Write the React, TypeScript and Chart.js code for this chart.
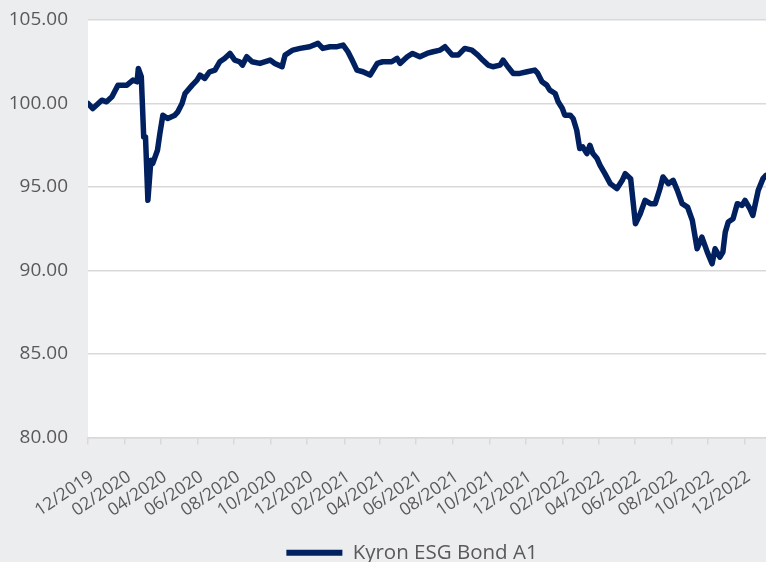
import React, { useEffect, useRef } from 'react';
import { Chart, registerables } from 'chart.js';

Chart.register(...registerables);

const SERIES_NAME = 'Kyron ESG Bond A1';
const LINE_COLOR = '#002060';

const dates: string[] = [
  '2019-12-01', '2019-12-09', '2019-12-24', '2020-01-01', '2020-01-10', '2020-01-20', '2020-02-04', '2020-02-14',
  '2020-02-21', '2020-02-23', '2020-02-28', '2020-03-03', '2020-03-06', '2020-03-10', '2020-03-15', '2020-03-18',
  '2020-03-26', '2020-03-30', '2020-04-04', '2020-04-12', '2020-04-24', '2020-04-29', '2020-05-06', '2020-05-11',
  '2020-05-23', '2020-05-31', '2020-06-05', '2020-06-13', '2020-06-21', '2020-06-30', '2020-07-08', '2020-07-16',
  '2020-07-25', '2020-08-02', '2020-08-10', '2020-08-15', '2020-08-22', '2020-08-31', '2020-09-13', '2020-09-30',
  '2020-10-08', '2020-10-20', '2020-10-25', '2020-11-07', '2020-11-19', '2020-12-05', '2020-12-19', '2020-12-27',
  '2021-01-08', '2021-01-20', '2021-01-30', '2021-02-07', '2021-02-14', '2021-02-22', '2021-03-04', '2021-03-16',
  '2021-03-28', '2021-04-06', '2021-04-21', '2021-04-30', '2021-05-05', '2021-05-17', '2021-05-26', '2021-06-07',
  '2021-06-19', '2021-06-29', '2021-07-11', '2021-07-19', '2021-07-31', '2021-08-10', '2021-08-21', '2021-09-02',
  '2021-09-12', '2021-09-20', '2021-09-29', '2021-10-07', '2021-10-19', '2021-10-24', '2021-11-01', '2021-11-10',
  '2021-11-21', '2021-12-03', '2021-12-16', '2021-12-21', '2021-12-28', '2022-01-05', '2022-01-10', '2022-01-19',
  '2022-01-24', '2022-01-31', '2022-02-04', '2022-02-13', '2022-02-18', '2022-02-24', '2022-03-01', '2022-03-06',
  '2022-03-13', '2022-03-18', '2022-03-23', '2022-03-30', '2022-04-04', '2022-04-12', '2022-04-21', '2022-05-02',
  '2022-05-11', '2022-05-16', '2022-05-25', '2022-06-02', '2022-06-10', '2022-06-18', '2022-06-27', '2022-07-05',
  '2022-07-13', '2022-07-18', '2022-07-27', '2022-08-04', '2022-08-11', '2022-08-19', '2022-08-28', '2022-09-05',
  '2022-09-13', '2022-09-21', '2022-09-30', '2022-10-08', '2022-10-13', '2022-10-21', '2022-10-26', '2022-10-30',
  '2022-11-04', '2022-11-12', '2022-11-19', '2022-11-27', '2022-12-02', '2022-12-10', '2022-12-15', '2022-12-24',
  '2023-01-01', '2023-01-06',
];

const values: number[] = [
  100.0, 99.7, 100.2, 100.1, 100.4, 101.1, 101.1, 101.4,
  101.3, 102.1, 101.6, 98.0, 98.0, 94.2, 96.6, 96.4,
  97.2, 98.2, 99.3, 99.1, 99.3, 99.5, 100.0, 100.6,
  101.1, 101.4, 101.7, 101.5, 101.9, 102.0, 102.5, 102.7,
  103.0, 102.6, 102.5, 102.3, 102.8, 102.5, 102.4, 102.6,
  102.4, 102.2, 102.9, 103.2, 103.3, 103.4, 103.6, 103.3,
  103.4, 103.4, 103.5, 103.1, 102.6, 102.0, 101.9, 101.7,
  102.4, 102.5, 102.5, 102.7, 102.4, 102.8, 103.0, 102.8,
  103.0, 103.1, 103.2, 103.4, 102.9, 102.9, 103.3, 103.2,
  102.9, 102.6, 102.3, 102.2, 102.3, 102.6, 102.2, 101.8,
  101.8, 101.9, 102.0, 101.8, 101.3, 101.1, 100.8, 100.6,
  100.1, 99.7, 99.3, 99.3, 99.1, 98.4, 97.3, 97.4,
  97.0, 97.5, 97.0, 96.7, 96.3, 95.8, 95.2, 94.9,
  95.4, 95.8, 95.5, 92.8, 93.4, 94.2, 94.0, 94.0,
  94.9, 95.6, 95.2, 95.4, 94.8, 94.0, 93.8, 93.0,
  91.3, 92.0, 91.1, 90.4, 91.3, 90.8, 91.1, 92.3,
  92.9, 93.1, 94.0, 93.9, 94.2, 93.7, 93.3, 94.8,
  95.5, 95.7,
];

const xTickLabels: string[] = [
  '12/2019', '02/2020', '04/2020', '06/2020', '08/2020', '10/2020', '12/2020',
  '02/2021', '04/2021', '06/2021', '08/2021', '10/2021', '12/2021',
  '02/2022', '04/2022', '06/2022', '08/2022', '10/2022', '12/2022',
];

const Y_MIN = 80;
const Y_MAX = 105;
const Y_STEP = 5;

function isoToTime(iso: string): number {
  const [y, m, d] = iso.split('-').map(Number);
  return Date.UTC(y, m - 1, d);
}

function labelToTime(label: string): number {
  const [m, y] = label.split('/').map(Number);
  return Date.UTC(y, m - 1, 1);
}

const plotBackground = {
  id: 'plotBackground',
  beforeDraw(chart: any) {
    const { ctx, chartArea } = chart;
    if (!chartArea) return;
    ctx.save();
    ctx.fillStyle = '#FFFFFF';
    ctx.fillRect(chartArea.left, chartArea.top, chartArea.right - chartArea.left, chartArea.bottom - chartArea.top);
    ctx.restore();
  },
};

// Nudge the legend box to the reference's placement (right of centre, near the bottom edge).
const legendPlacement = {
  id: 'legendPlacement',
  afterLayout(chart: any) {
    const lg = chart.legend;
    if (!lg) return;
    lg.left += 58;
    lg.top += 11;
    lg.bottom += 11;
  },
};

export default function App() {
  const canvasRef = useRef<HTMLCanvasElement | null>(null);

  useEffect(() => {
    if (!canvasRef.current) return;
    const font = "'Open Sans', sans-serif";
    const chart = new Chart(canvasRef.current, {
      type: 'line',
      data: {
        datasets: [
          {
            label: SERIES_NAME,
            data: dates.map((d, i) => ({ x: isoToTime(d), y: values[i] })),
            borderColor: LINE_COLOR,
            backgroundColor: LINE_COLOR,
            borderWidth: 5.5,
            pointRadius: 0,
            tension: 0,
            borderJoinStyle: 'round',
            borderCapStyle: 'round',
          },
        ],
      },
      options: {
        animation: false,
        responsive: false,
        devicePixelRatio: 1,
        layout: { padding: { top: 20, right: 0, left: 0, bottom: 0 } },
        plugins: {
          tooltip: { enabled: false },
          legend: {
            position: 'bottom',
            labels: {
              color: '#595959',
              font: { family: font, size: 20.5 },
              boxWidth: 56,
              boxHeight: 6,
              padding: 10,
              generateLabels: (c: any) =>
                c.data.datasets.map((ds: any, i: number) => ({
                  text: ds.label,
                  fillStyle: LINE_COLOR,
                  strokeStyle: LINE_COLOR,
                  lineWidth: 0,
                  hidden: false,
                  datasetIndex: i,
                  fontColor: '#595959',
                })),
            },
          },
        },
        scales: {
          x: {
            type: 'linear',
            min: isoToTime(dates[0]),
            max: isoToTime(dates[dates.length - 1]),
            afterBuildTicks: (scale: any) => {
              scale.ticks = xTickLabels.map((l) => ({ value: labelToTime(l) }));
            },
            afterFit: (scale: any) => {
              scale.height = 84;
              scale.paddingLeft = 0;
              scale.paddingRight = 0;
            },
            ticks: {
              autoSkip: false,
              minRotation: 34,
              maxRotation: 34,
              padding: 22,
              labelOffset: 4,
              color: '#595959',
              font: { family: font, size: 17.5 },
              callback: (_v: any, i: number) => xTickLabels[i],
            },
            grid: {
              drawOnChartArea: false,
              drawTicks: true,
              tickLength: 7,
              color: '#D9D9D9',
              lineWidth: 1.5,
            },
            border: { display: true, color: '#D9D9D9', width: 1.5 },
          },
          y: {
            min: Y_MIN,
            max: Y_MAX,
            afterFit: (scale: any) => {
              scale.width = 88;
              scale.paddingTop = 0;
              scale.paddingBottom = 0;
            },
            ticks: {
              stepSize: Y_STEP,
              padding: 20,
              color: '#595959',
              font: { family: font, size: 19 },
              callback: (v: any) => Number(v).toFixed(2),
            },
            grid: {
              drawTicks: false,
              color: '#D9D9D9',
              lineWidth: 1.5,
            },
            border: { display: false },
          },
        },
      },
      plugins: [plotBackground, legendPlacement],
    });
    return () => chart.destroy();
  }, []);

  return (
    <div
      style={{
        position: 'fixed',
        left: 0,
        top: 0,
        width: 766,
        height: 562,
        background: '#ECEDEF',
      }}
    >
      <canvas ref={canvasRef} width={766} height={562} style={{ display: 'block', width: 766, height: 562 }} />
    </div>
  );
}
